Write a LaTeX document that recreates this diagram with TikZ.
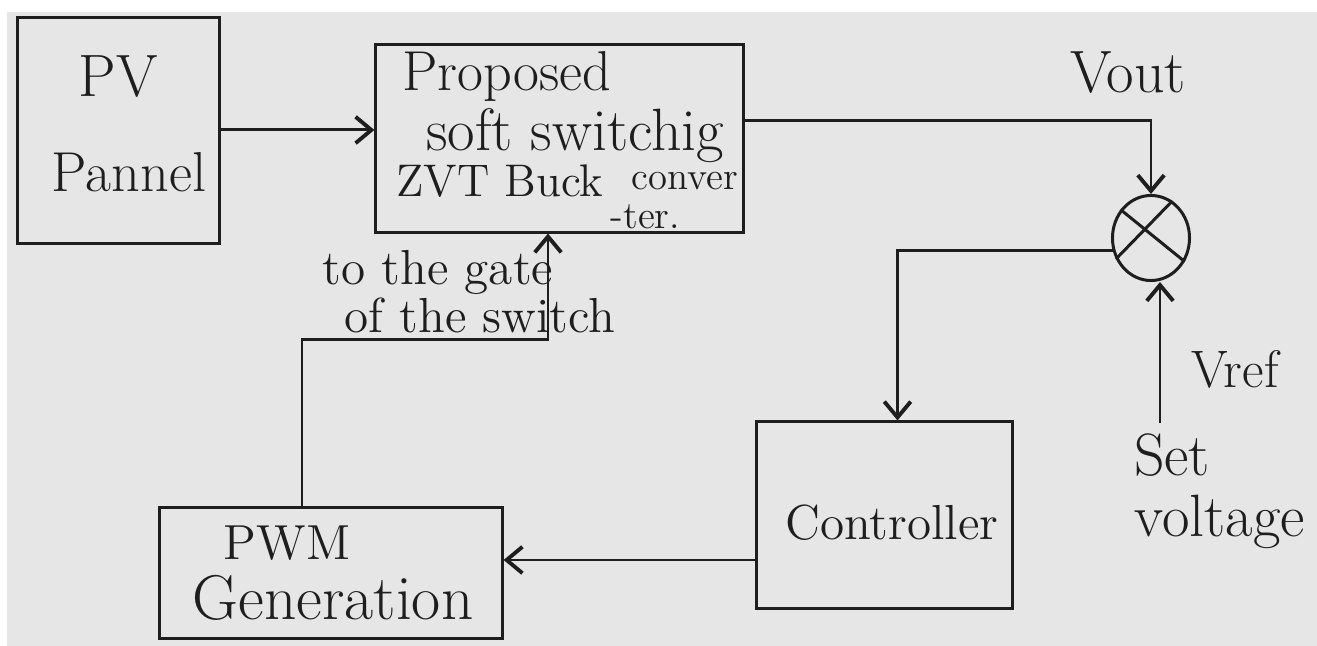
\documentclass[tikz,border=0pt]{standalone}
\usetikzlibrary{arrows.meta,shapes.geometric,calc}
\definecolor{ink}{HTML}{1E1E1E}
\definecolor{paper}{HTML}{E6E6E6}
\newcommand{\fs}[1]{\fontsize{#1}{#1}\selectfont}
\begin{document}
\begin{tikzpicture}[x=0.01cm,y=-0.01cm,
  blk/.style={draw=ink, line width=0.85pt, inner sep=0pt, rectangle},
  conn/.style={draw=ink, line width=0.85pt},
  arr/.style={conn, -{Straight Barb[length=4.5pt,width=7.5pt,line width=1.1pt]}},
  lbl/.style={text=ink, inner sep=0pt, anchor=base}]
% background
\fill[white] (0,0) rectangle (1317,646);
\fill[paper] (7,12) rectangle (1317,646);
\useasboundingbox (0,0) rectangle (1317,646);

% blocks
\node[blk, minimum width=2.01cm, minimum height=2.25cm] (pv) at (118.5,130.5) {};
\node[blk, minimum width=3.67cm, minimum height=1.87cm] (conv) at (559.5,138.5) {};
\node[blk, minimum width=2.55cm, minimum height=1.86cm] (ctrl) at (884.5,515) {};
\node[blk, minimum width=3.42cm, minimum height=1.30cm] (pwm) at (331,573) {};
\node[draw=ink, line width=0.85pt, ellipse, inner sep=0pt,
      minimum width=0.77cm, minimum height=0.85cm] (sum) at (1151,238) {};
\draw[conn] (sum.137) -- (sum.-35);
\draw[conn] (sum.60) -- (sum.211);

% texts
\node[lbl, font=\fs{17}] (tpv) at (118,97) {PV};
\node[lbl, font=\fs{16}] (tpan) at (129,192) {Pannel};
\node[lbl, font=\fs{16}] (tprop) at (507,91) {Proposed};
\node[lbl, font=\fs{17}] (tsoft) at (575,151) {soft switchig};
\node[lbl, font=\fs{13}] (tzvt) at (500,197) {ZVT Buck};
\node[text=ink, inner sep=0pt, anchor=north west, align=left, font=\fs{11}]
  (tconv) at (610,172) {\hspace*{6pt}conver\\[0pt]-ter.};
\node[lbl, font=\fs{17}] (tvout) at (1128,93) {Vout};
\node[lbl, font=\fs{14}] (tgate) at (438,285) {to the gate};
\node[lbl, font=\fs{14}] (tsw) at (480,333) {of the switch};
\node[lbl, font=\fs{15}] (tvref) at (1235,388) {Vref};
\node[lbl, font=\fs{17}] (tset) at (1172,476) {Set};
\node[lbl, font=\fs{17}] (tvolt) at (1220,537) {voltage};
\node[lbl, font=\fs{14}] (tctrl) at (892,540) {Controller};
\node[lbl, font=\fs{14}] (tpwm) at (287,560) {PWM};
\node[lbl, font=\fs{18}] (tgen) at (333,620) {Generation};

% connectors
\draw[arr] (pv.east |- 0,130) -- (conv.west |- 0,130);
\draw[arr] ($(conv.east)+(0,-18)$) -| (sum.north);
\draw[arr] (sum.198) -| ($(ctrl.north)+(13,0)$);
\coordinate (vref) at (1160,423);
\draw[arr] (vref) -- (vref |- sum.south);
\draw[arr] ($(ctrl.west)+(0,45)$) -- ($(pwm.east |- ctrl.west)+(0,45)$);
\coordinate (g1) at (302,340);
\coordinate (g2) at (548,340);
\draw[arr] (pwm.north -| g1) -- (g1) -- (g2) -- (g2 |- conv.south);
\end{tikzpicture}
\end{document}
